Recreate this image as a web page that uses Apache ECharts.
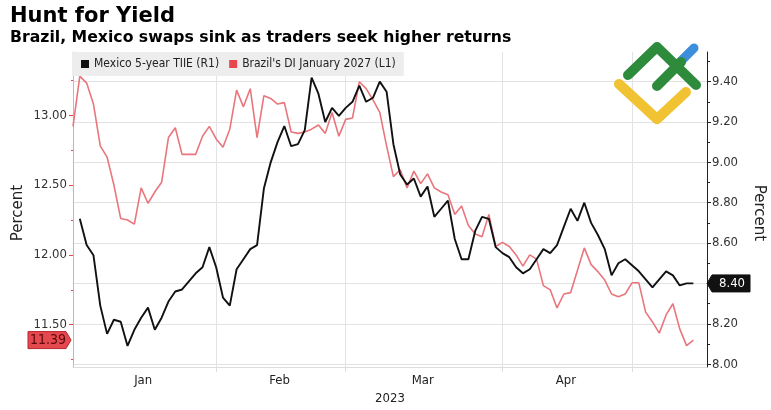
<!DOCTYPE html>
<html><head><meta charset="utf-8">
<script src="https://cdn.jsdelivr.net/npm/echarts@6/dist/echarts.min.js"></script>
<style>html,body{margin:0;padding:0;background:#fff}#c{width:771px;height:410px}</style>
</head><body><div id="c"></div>
<script>
// ---- data ----
const holidays = ['2023-02-20', '2023-04-07'];
const monthLabels = ['Jan', 'Feb', 'Mar', 'Apr'];
const seriesNames = ['Mexico 5-year TIIE (R1)', "Brazil's DI January 2027 (L1)"];
const brazilDI = [12.92,13.28,13.23,13.08,12.78,12.70,12.50,12.26,12.25,12.22,12.48,12.37,12.45,12.52,12.84,12.91,12.72,12.72,12.72,12.85,12.92,
  12.83,12.77,12.90,13.18,13.06,13.19,12.84,13.14,13.12,13.08,13.09,12.88,12.87,12.88,12.90,12.93,12.87,13.02,12.85,
  12.97,12.98,13.24,13.19,13.11,13.02,12.78,12.56,12.61,12.48,12.60,12.51,12.58,12.48,12.45,12.43,12.29,12.35,12.21,12.15,12.13,12.29,12.06,
  12.09,12.06,12.00,11.92,12.00,11.97,11.78,11.75,11.62,11.72,11.73,11.89,12.05,11.93,11.88,11.82,11.72,11.70,11.72,
  11.80,11.80,11.59,11.52,11.44,11.57,11.65,11.47,11.35,11.39];
const mexicoTIIE = [null,8.72,8.59,8.54,8.29,8.15,8.22,8.21,8.09,8.17,8.23,8.28,8.17,8.23,8.31,8.36,8.37,8.41,8.45,8.48,8.58,
  8.48,8.33,8.29,8.47,8.52,8.57,8.59,8.87,9.00,9.10,9.18,9.08,9.09,9.16,9.42,9.34,9.20,9.27,9.23,
  9.27,9.30,9.38,9.30,9.32,9.40,9.35,9.09,8.94,8.89,8.92,8.83,8.88,8.73,8.77,8.81,8.62,8.52,8.52,8.66,8.73,8.72,8.58,
  8.55,8.53,8.48,8.45,8.47,8.52,8.57,8.55,8.59,8.68,8.77,8.71,8.80,8.70,8.64,8.57,8.44,8.50,8.52,
  8.49,8.46,8.42,8.38,8.42,8.46,8.44,8.39,8.40,8.40];
const leftTicks = [11.5, 12.0, 12.5, 13.0];
const leftMinor = [11.25, 11.75, 12.25, 12.75, 13.25];
const rightTicks = [8.0, 8.2, 8.4, 8.6, 8.8, 9.0, 9.2, 9.4];
const rightMinor = [8.1, 8.3, 8.5, 8.7, 8.9, 9.1, 9.3, 9.5];

// trading-day categories (US calendar), Jan 3 – May 16 2023
const dates = [];
for (let d = new Date(Date.UTC(2023, 0, 3)); dates.length < 94; d.setUTCDate(d.getUTCDate() + 1)) {
  const wd = d.getUTCDay(); const s = d.toISOString().slice(0, 10);
  if (wd === 0 || wd === 6 || holidays.includes(s)) continue;
  dates.push(s);
}
const monthStart = [];
for (let i = 1; i < dates.length; i++) if (dates[i].slice(5, 7) !== dates[i - 1].slice(5, 7)) monthStart.push(i);
const bounds = [0].concat(monthStart);
const labelIdx = {};
monthLabels.forEach((m, k) => { labelIdx[Math.floor((bounds[k] + bounds[k + 1]) / 2)] = m; });

const FC = "'DejaVu Sans Condensed', 'DejaVu Sans', sans-serif";
const FR = "'DejaVu Sans', sans-serif";
const RED = '#e8767c', BLACK = '#111';

const chart = echarts.init(document.getElementById('c'), null, { renderer: 'canvas' });
const gridTop = 52, gridBottom = 371;
const rPx = 204.3, lPx = 141.4; // px per unit
const rMin = 8 - (gridBottom - 368) / rPx, rMax = 8 + (368 - gridTop) / rPx;
const lMin = 13 - (gridBottom - 116) / lPx, lMax = 13 + (116 - gridTop) / lPx;

chart.setOption({
  animation: false,
  textStyle: { fontFamily: FC },
  grid: { left: 73, right: 64, top: gridTop, bottom: 410 - gridBottom, containLabel: false },
  legend: {
    left: 72, top: 52, padding: [6, 8, 6, 9], backgroundColor: '#ededed', itemGap: 10,
    itemWidth: 8, itemHeight: 8, icon: 'rect', z: 10,
    textStyle: { fontFamily: FC, fontSize: 12, color: '#222' },
    data: [{ name: seriesNames[0], itemStyle: { color: BLACK } }, { name: seriesNames[1], itemStyle: { color: '#e8474d' } }]
  },
  xAxis: {
    type: 'category', data: dates, boundaryGap: false,
    axisLine: { lineStyle: { color: '#dcdcdc', width: 1 } },
    axisTick: { show: true, length: 5, interval: (i) => monthStart.includes(i), lineStyle: { color: '#dcdcdc' } },
    splitLine: { show: true, interval: (i) => monthStart.includes(i), lineStyle: { color: '#e3e3e3' } },
    axisLabel: { interval: (i) => labelIdx[i] !== undefined, formatter: (v, i) => labelIdx[i] || '',
      fontFamily: FC, fontSize: 13, color: '#222', margin: 7, padding: [0, 0, 0, 4] },
    name: '2023', nameLocation: 'middle', nameGap: 23,
    nameTextStyle: { fontFamily: FC, fontSize: 13, color: '#222' }
  },
  yAxis: [
    { type: 'value', position: 'left', min: lMin, max: lMax,
      axisLine: { show: true, lineStyle: { color: '#f2a3a6' } },
      axisTick: { show: true, customValues: leftTicks, length: 4, lineStyle: { color: '#e0484e' } },
      axisLabel: { customValues: leftTicks, formatter: (v) => v.toFixed(2), fontFamily: FC, fontSize: 13, color: '#333', margin: 6 },
      splitLine: { show: false } },
    { type: 'value', position: 'right', min: rMin, max: rMax,
      axisLine: { show: true, lineStyle: { color: '#222' } },
      axisTick: { show: true, customValues: rightTicks, length: 4, lineStyle: { color: '#222' } },
      axisLabel: { customValues: rightTicks, formatter: (v) => v.toFixed(2), fontFamily: FC, fontSize: 13, color: '#333', margin: 5 },
      splitLine: { show: true, lineStyle: { color: '#e2e2e2' } } },
    { type: 'value', position: 'left', min: lMin, max: lMax,
      axisLine: { show: false }, axisLabel: { show: false }, splitLine: { show: false },
      axisTick: { show: true, customValues: leftMinor, length: 2, lineStyle: { color: '#e0484e' } } },
    { type: 'value', position: 'right', min: rMin, max: rMax,
      axisLine: { show: false }, axisLabel: { show: false }, splitLine: { show: false },
      axisTick: { show: true, customValues: rightMinor, length: 3, lineStyle: { color: '#222' } } }
  ],
  series: [
    { name: seriesNames[0], type: 'line', yAxisIndex: 1, data: mexicoTIIE, showSymbol: false, z: 4,
      lineStyle: { color: BLACK, width: 1.9 }, itemStyle: { color: BLACK } },
    { name: seriesNames[1], type: 'line', yAxisIndex: 0, data: brazilDI, showSymbol: false, z: 3,
      lineStyle: { color: RED, width: 1.6 }, itemStyle: { color: RED } }
  ]
});

// ---- annotations: value tags, titles, axis names, logo ----
const lastRed = brazilDI[brazilDI.length - 1];
const lastBlack = mexicoTIIE[mexicoTIIE.length - 1];
const yRed = chart.convertToPixel({ yAxisIndex: 0 }, lastRed);
const yBlack = chart.convertToPixel({ yAxisIndex: 1 }, lastBlack);
const xL = chart.convertToPixel({ xAxisIndex: 0 }, 0);
const xR = chart.convertToPixel({ xAxisIndex: 0 }, dates.length - 1);
const h = 8.5;
function tagPts(tip, near, far, y) { return [[far, y - h], [near, y - h], [tip, y], [near, y + h], [far, y + h]]; }

chart.setOption({
  graphic: [
    { type: 'text', x: 10, y: 6, style: { text: 'Hunt for Yield', font: "bold 21px 'DejaVu Sans'", fill: '#000', textVerticalAlign: 'top' } },
    { type: 'text', x: 10, y: 30, style: { text: 'Brazil, Mexico swaps sink as traders seek higher returns', font: "bold 15.7px 'DejaVu Sans'", fill: '#000', textVerticalAlign: 'top' } },
    { type: 'text', x: 18, y: 213, rotation: Math.PI / 2, style: { text: 'Percent', font: "15px " + FR, fill: '#222', textAlign: 'center', textVerticalAlign: 'middle' } },
    { type: 'text', x: 759, y: 213, rotation: -Math.PI / 2, style: { text: 'Percent', font: "15px " + FR, fill: '#222', textAlign: 'center', textVerticalAlign: 'middle' } },
    { type: 'polygon', z: 20, shape: { points: tagPts(xL - 2, xL - 7, 28, yRed) }, style: { fill: '#e5484e', stroke: '#b8262c', lineWidth: 1 } },
    { type: 'text', z: 21, x: (28 + xL - 7) / 2 + 1, y: yRed, style: { text: lastRed.toFixed(2), font: "14px " + FC, fill: '#5a0a0a', textAlign: 'center', textVerticalAlign: 'middle' } },
    { type: 'polygon', z: 20, shape: { points: tagPts(xR, xR + 5, xR + 43, yBlack) }, style: { fill: '#111', stroke: '#111', lineWidth: 1 } },
    { type: 'text', z: 21, x: xR + 25, y: yBlack, style: { text: lastBlack.toFixed(2), font: "13px " + FC, fill: '#fff', textAlign: 'center', textVerticalAlign: 'middle' } },
    // logo watermark
    { type: 'polyline', z: 30, shape: { points: [[619, 84], [657, 119], [686, 92]] }, style: { stroke: '#f1c232', lineWidth: 10, lineCap: 'round', lineJoin: 'round', fill: null } },
    { type: 'polyline', z: 31, shape: { points: [[680, 62], [694, 48]] }, style: { stroke: '#3d8fdc', lineWidth: 9, lineCap: 'round', fill: null } },
    { type: 'polyline', z: 32, shape: { points: [[628, 75], [657, 47], [696, 85]] }, style: { stroke: '#2e8b3c', lineWidth: 10, lineCap: 'round', lineJoin: 'round', fill: null } },
    { type: 'polyline', z: 32, shape: { points: [[657, 86], [681, 62]] }, style: { stroke: '#2e8b3c', lineWidth: 10, lineCap: 'round', fill: null } }
  ]
});
</script></body></html>
